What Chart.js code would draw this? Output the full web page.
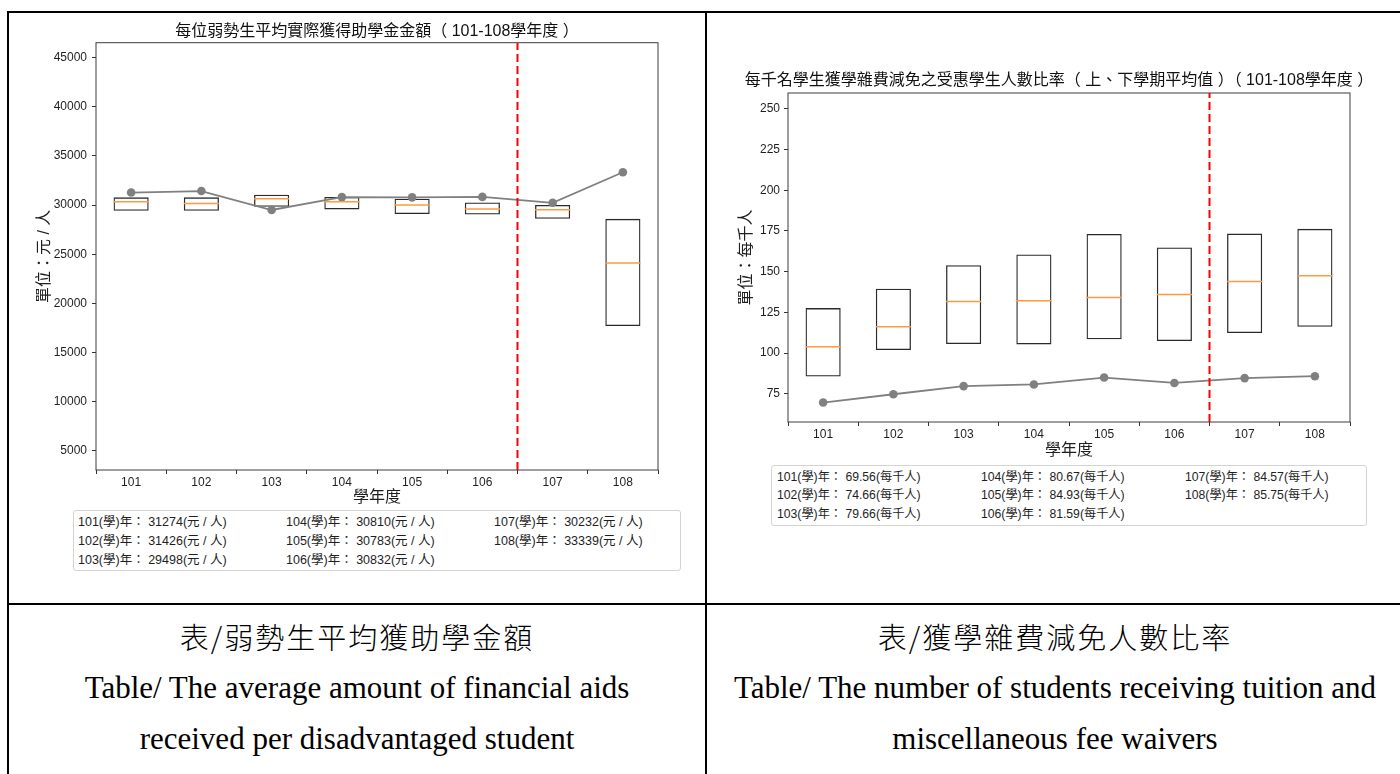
<!DOCTYPE html>
<html lang="zh-Hant">
<head>
<meta charset="utf-8">
<title>弱勢生助學金與學雜費減免</title>
<script src="https://cdn.jsdelivr.net/npm/chart.js@4.4.1/dist/chart.umd.min.js"></script>
<style>
  html, body { margin: 0; padding: 0; background: #fff; }
  body { width: 1400px; height: 774px; position: relative; overflow: hidden; }
  .rule { position: absolute; background: #000; }
  .chart { position: absolute; }
  .legend {
    position: absolute; box-sizing: border-box;
    border: 1px solid #d4d4d4; border-radius: 3px;
    display: grid; grid-auto-flow: column;
    font-family: "Liberation Sans", "Noto Sans CJK TC", sans-serif; color: #1e1e1e;
  }
  .legend span { white-space: nowrap; }
  .caption {
    position: absolute; text-align: center; color: #000;
    font: 31px "Liberation Serif", "Noto Sans CJK TC", serif; line-height: 51px;
  }
  .caption .zh { font-family: "Noto Sans CJK TC", sans-serif; font-weight: 300; font-size: 29px; letter-spacing: 2px; }
</style>
</head>
<body>

<div class="rule" style="left:7px; top:11px; width:1400px; height:2px;"></div>
<div class="rule" style="left:7px; top:11px; width:2px; height:780px;"></div>
<div class="rule" style="left:705px; top:11px; width:2px; height:780px;"></div>
<div class="rule" style="left:7px; top:603px; width:1400px; height:2px;"></div>

<div class="chart" style="left:10px; top:14px;"><canvas id="graficoAuxilio" width="660" height="493"></canvas></div>
<div class="chart" style="left:712px; top:14px;"><canvas id="graficoIsencao" width="678" height="446"></canvas></div>

<div class="legend" id="legendaAuxilio" style="left:73px; top:510px; width:608px; height:61px; padding:1.5px 0 0 4px; font-size:12.5px; grid-template-rows:repeat(3,19px); grid-template-columns:208px 208px 1fr;"></div>
<div class="legend" id="legendaIsencao" style="left:771px; top:465px; width:596px; height:61px; padding:1.75px 0 0 5px; font-size:12.2px; grid-template-rows:repeat(3,18.5px); grid-template-columns:204px 204px 1fr;"></div>

<div class="caption" style="left:9px; top:611px; width:696px;">
  <div class="zh">表/弱勢生平均獲助學金額</div>
  <div>Table/ The average amount of financial aids</div>
  <div>received per disadvantaged student</div>
</div>
<div class="caption" style="left:707px; top:611px; width:696px;">
  <div class="zh">表/獲學雜費減免人數比率</div>
  <div>Table/ The number of students receiving tuition and</div>
  <div>miscellaneous fee waivers</div>
</div>

<script>
// dados
const anos = [101, 102, 103, 104, 105, 106, 107, 108];
const linhaCorte = 106.5;

// 每位弱勢生平均實際獲得助學金金額
const auxilioMedia = [31274, 31426, 29498, 30810, 30783, 30832, 30232, 33339];
const auxilioQ1 = [29420, 29420, 29830, 29560, 29082, 29048, 28600, 17690];
const auxilioQ3 = [30786, 30786, 31050, 30816, 30640, 30272, 30000, 28600];
const auxilioMediana = [30337, 30170, 30640, 30337, 30000, 29592, 29524, 24115];
const auxilioTicks = [5000, 10000, 15000, 20000, 25000, 30000, 35000, 40000, 45000];
const auxilioLimites = [3035, 46527];

// 每千名學生獲學雜費減免之受惠學生人數比率
const isencaoMedia = [69.56, 74.66, 79.66, 80.67, 84.93, 81.59, 84.57, 85.75];
const isencaoQ1 = [85.6, 101.8, 105.5, 105.3, 108.4, 107.4, 112.3, 116.1];
const isencaoQ3 = [127.6, 139.5, 154.0, 160.5, 173.2, 164.8, 173.4, 176.3];
const isencaoMediana = [103.9, 116.1, 131.7, 132.1, 134.1, 136.0, 144.0, 147.5];
const isencaoTicks = [75, 100, 125, 150, 175, 200, 225, 250];
const isencaoLimites = [57.6, 259.8];

const fonte = '"Liberation Sans", "Noto Sans CJK TC", sans-serif';

const molduraPlugin = {
  id: 'moldura',
  beforeDatasetsDraw(chart) {
    const { ctx, chartArea: a } = chart;
    ctx.save();
    ctx.strokeStyle = '#3c3c3c';
    ctx.lineWidth = 1;
    ctx.strokeRect(a.left, a.top, a.right - a.left, a.bottom - a.top);
    ctx.restore();
  }
};

const medianaPlugin = {
  id: 'mediana',
  afterDatasetsDraw(chart, args, opts) {
    const { ctx } = chart;
    const meta = chart.getDatasetMeta(0);
    const y = chart.scales.y;
    ctx.save();
    ctx.strokeStyle = '#ff9a40';
    ctx.lineWidth = 1.5;
    meta.data.forEach((bar, i) => {
      const py = y.getPixelForValue(opts.valores[i]);
      ctx.beginPath();
      ctx.moveTo(bar.x - bar.width / 2, py);
      ctx.lineTo(bar.x + bar.width / 2, py);
      ctx.stroke();
    });
    ctx.restore();
  }
};

// título centrado sobre a área do gráfico (como no matplotlib), sem compressão
const tituloPlugin = {
  id: 'tituloEixo',
  afterDraw(chart, args, opts) {
    const { ctx, chartArea: a } = chart;
    ctx.save();
    ctx.font = `16px ${fonte}`;
    ctx.fillStyle = '#111';
    ctx.textAlign = 'center';
    ctx.textBaseline = 'middle';
    ctx.fillText(opts.texto, (a.left + a.right) / 2 + opts.dx, a.top - opts.acima);
    ctx.restore();
  }
};

function renderizarBoxplot(canvasId, p) {
  const canvas = document.getElementById(canvasId);
  const ctx = canvas.getContext('2d');

  const dados = {
    datasets: [
      {
        type: 'bar',
        data: anos.map((a, i) => ({ x: a, y: [p.q1[i], p.q3[i]] })),
        backgroundColor: 'rgba(0,0,0,0)',
        borderColor: '#2a2a2a',
        borderWidth: 1.3,
        borderSkipped: false,
        barPercentage: 0.5,
        categoryPercentage: 1,
        order: 3
      },
      {
        type: 'line',
        data: anos.map((a, i) => ({ x: a, y: p.media[i] })),
        borderColor: '#808080',
        borderWidth: 1.8,
        pointRadius: 4.3,
        pointBackgroundColor: '#808080',
        pointBorderWidth: 0,
        order: 1
      },
      {
        type: 'line',
        data: [{ x: linhaCorte, y: p.limites[0] }, { x: linhaCorte, y: p.limites[1] }],
        borderColor: '#ff0000',
        borderWidth: 2,
        borderDash: [8, 4],
        pointRadius: 0,
        order: 0
      }
    ]
  };

  const config = {
    type: 'bar',
    data: dados,
    options: {
      responsive: false,
      animation: false,
      layout: { padding: { top: p.padTopo, right: p.padDireita } },
      scales: {
        x: {
          type: 'linear',
          min: 100.5,
          max: 108.5,
          offset: false,
          afterBuildTicks: (s) => { s.ticks = anos.map((v) => ({ value: v })); },
          afterFit: (s) => { s.height = p.alturaX; },
          ticks: { color: '#1e1e1e', font: { family: fonte, size: 12 }, padding: 1, callback: (v) => String(v) },
          grid: { display: true, drawOnChartArea: false, drawTicks: true, tickLength: 4, color: '#333' },
          border: { display: false },
          title: { display: true, text: '學年度', color: '#1e1e1e', font: { family: fonte, size: 16 }, padding: 0 }
        },
        y: {
          type: 'linear',
          min: p.limites[0],
          max: p.limites[1],
          afterBuildTicks: (s) => { s.ticks = p.ticks.map((v) => ({ value: v })); },
          afterFit: (s) => { s.width = p.larguraY; },
          ticks: { color: '#1e1e1e', font: { family: fonte, size: 12 }, padding: p.padTicksY, callback: (v) => String(v) },
          grid: { display: true, drawOnChartArea: false, drawTicks: true, tickLength: 4, color: '#333' },
          border: { display: false },
          title: { display: true, text: p.rotuloY, color: '#1e1e1e', font: { family: fonte, size: 16 }, padding: { top: 25.4, bottom: 0 } }
        }
      },
      plugins: {
        legend: { display: false },
        tooltip: { enabled: false },
        title: { display: false },
        tituloEixo: { texto: p.titulo, dx: p.dxTitulo, acima: p.acimaTitulo },
        mediana: { valores: p.mediana }
      }
    },
    plugins: [molduraPlugin, medianaPlugin, tituloPlugin]
  };

  return new Chart(ctx, config);
}

function montarLegenda(id, valores, formato) {
  const el = document.getElementById(id);
  const altura = el.style.gridTemplateRows.match(/([\d.]+)px/)[1] + 'px';
  anos.forEach((a, i) => {
    const s = document.createElement('span');
    s.textContent = `${a}(學)年： ${formato(valores[i])}`;
    s.style.lineHeight = altura;
    el.appendChild(s);
  });
}

renderizarBoxplot('graficoAuxilio', {
  q1: auxilioQ1, q3: auxilioQ3, mediana: auxilioMediana, media: auxilioMedia,
  ticks: auxilioTicks, limites: auxilioLimites,
  titulo: '每位弱勢生平均實際獲得助學金金額（ 101-108學年度 ）',
  rotuloY: '單位：元 / 人',
  padTopo: 28.7, dxTitulo: 0, acimaTitulo: 11,
  padDireita: 12, larguraY: 86, padTicksY: 5, alturaX: 37
});

renderizarBoxplot('graficoIsencao', {
  q1: isencaoQ1, q3: isencaoQ3, mediana: isencaoMediana, media: isencaoMedia,
  ticks: isencaoTicks, limites: isencaoLimites,
  titulo: '每千名學生獲學雜費減免之受惠學生人數比率（ 上、下學期平均值 ）（ 101-108學年度 ）',
  rotuloY: '單位：每千人',
  padTopo: 79, dxTitulo: -10, acimaTitulo: 12,
  padDireita: 40, larguraY: 76, padTicksY: 4, alturaX: 38
});

montarLegenda('legendaAuxilio', auxilioMedia, (v) => `${v}(元 / 人)`);
montarLegenda('legendaIsencao', isencaoMedia, (v) => `${v.toFixed(2)}(每千人)`);
</script>
</body>
</html>
